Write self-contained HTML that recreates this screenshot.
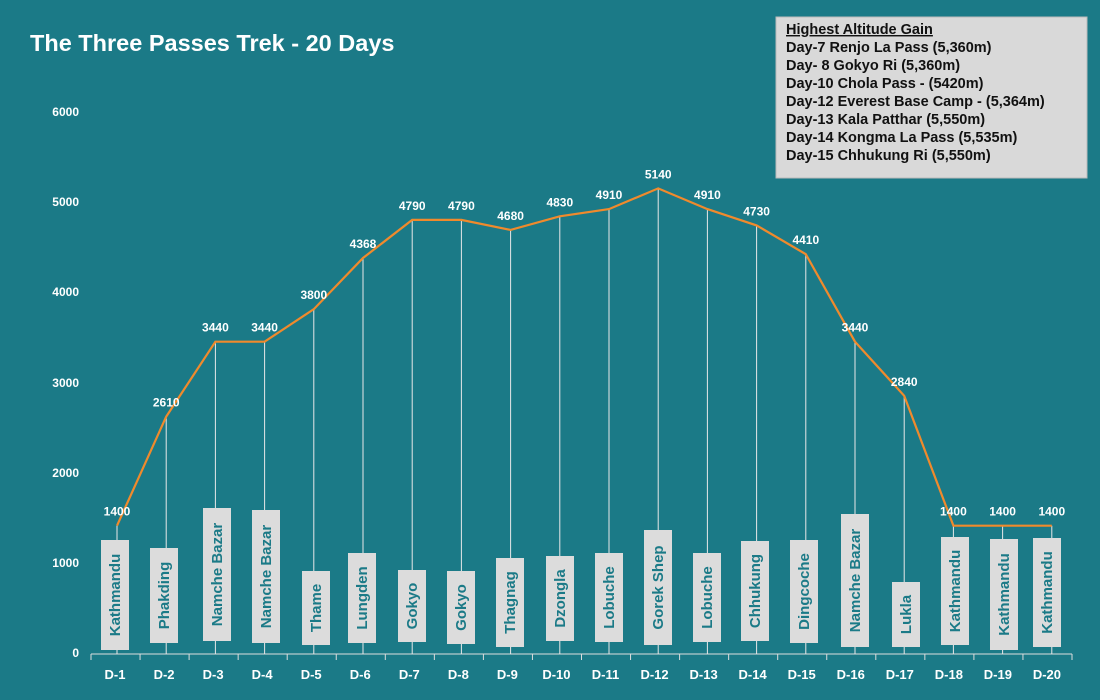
<!DOCTYPE html>
<html><head><meta charset="utf-8"><style>
html,body{margin:0;padding:0;background:#1b7a87}
svg{display:block;font-family:"Liberation Sans",sans-serif}
</style></head><body>
<svg width="1100" height="700" viewBox="0 0 1100 700" xmlns="http://www.w3.org/2000/svg">
<rect width="1100" height="700" fill="#1b7a87"/>
<text x="30" y="51" font-size="23.5" font-weight="bold" fill="#fff">The Three Passes Trek - 20 Days</text>
<g font-size="12" font-weight="bold" fill="#fff" text-anchor="end">
<text x="79" y="116">6000</text><text x="79" y="206">5000</text><text x="79" y="296">4000</text>
<text x="79" y="387">3000</text><text x="79" y="477">2000</text><text x="79" y="567">1000</text><text x="79" y="657">0</text>
</g>
<rect x="776" y="17" width="311" height="161" fill="#d9d9d9" stroke="#bbb"/>
<g font-size="14.5" font-weight="bold" fill="#111">
<text x="786" y="34" text-decoration="underline">Highest Altitude Gain</text>
<text x="786" y="52">Day-7 Renjo La Pass  (5,360m)</text>
<text x="786" y="70">Day- 8 Gokyo Ri  (5,360m)</text>
<text x="786" y="88">Day-10 Chola Pass - (5420m)</text>
<text x="786" y="106">Day-12 Everest Base Camp - (5,364m)</text>
<text x="786" y="124">Day-13 Kala Patthar (5,550m)</text>
<text x="786" y="142">Day-14 Kongma La Pass (5,535m)</text>
<text x="786" y="160">Day-15 Chhukung Ri (5,550m)</text>
</g>
<line x1="91" y1="654" x2="1072" y2="654" stroke="#ddd" stroke-width="1"/>
<g stroke="#ddd" stroke-width="1" id="ticks"></g>
<g id="drops" stroke="#e8e8e8" stroke-width="1"></g>
<g id="boxes"></g>
<polyline id="pl" fill="none" stroke="#f08a2c" stroke-width="2.2"/>
<g id="vals" font-size="12" font-weight="bold" fill="#fff" text-anchor="middle"></g>
<g id="xl" font-size="13" font-weight="bold" fill="#fff" text-anchor="middle"></g>
<g id="boxt" font-size="15" font-weight="bold" fill="#1b7a87" text-anchor="middle"></g>
</svg>
<script>
const NS="http://www.w3.org/2000/svg";
const vals=[1400,2610,3440,3440,3800,4368,4790,4790,4680,4830,4910,5140,4910,4730,4410,3440,2840,1400,1400,1400];
const names=["Kathmandu","Phakding","Namche Bazar","Namche Bazar","Thame","Lungden","Gokyo","Gokyo","Thagnag","Dzongla","Lobuche","Gorek Shep","Lobuche","Chhukung","Dingcoche","Namche Bazar","Lukla","Kathmandu","Kathmandu","Kathmandu"];
const bx=[[115,540,650],[164,548,643],[217,508,641],[266,510,643],[316,571,645],[362,553,643],[412,570,642],[461,571,644],[510,558,647],[560,556,641],[609,553,642],[658,530,645],[707,553,642],[755,541,641],[804,540,643],[855,514,647],[906,582,647],[955,537,645],[1004,539,650],[1047,538,647]];
function el(t,a,p,txt){const e=document.createElementNS(NS,t);for(const k in a)e.setAttribute(k,a[k]);if(txt)e.textContent=txt;document.getElementById(p).appendChild(e);return e;}
let pts=[];
for(let i=0;i<20;i++){
 const x=117+49.2*i, y=652-vals[i]*0.0902;
 pts.push(x.toFixed(1)+","+y.toFixed(1));
 const [cx,t,b]=bx[i];
 el("line",{x1:x,y1:y,x2:x,y2:654},"drops");
 el("rect",{x:cx-14,y:t,width:28,height:b-t,fill:"#dcdcdc"},"boxes");
 const my=(t+b)/2;
 el("text",{x:0,y:0,transform:`translate(${cx+5},${my}) rotate(-90)`},"boxt",names[i]);
 el("text",{x:x,y:y-10},"vals",String(vals[i]));
 el("text",{x:115+49.05*i,y:679},"xl","D-"+(i+1));
 el("line",{x1:91+49.05*i,y1:654,x2:91+49.05*i,y2:660},"ticks");
}
el("line",{x1:91+49.05*20,y1:654,x2:91+49.05*20,y2:660},"ticks");
document.getElementById("pl").setAttribute("points",pts.join(" "));
</script>
</body></html>
